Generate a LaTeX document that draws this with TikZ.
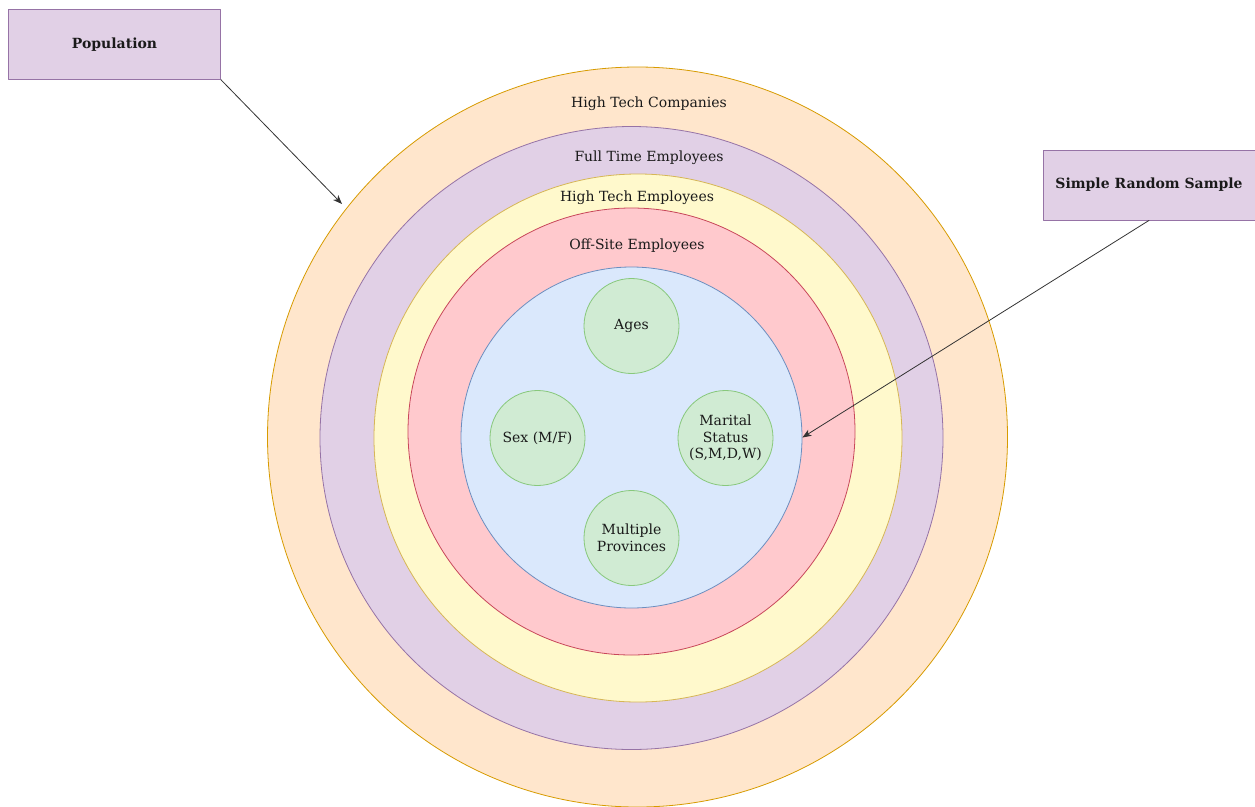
\documentclass[tikz,border=0pt]{standalone}
\usepackage{fontspec}
\setmainfont{DejaVu Serif}
\usetikzlibrary{arrows.meta}
\definecolor{orangefill}{HTML}{FFE6CC}
\definecolor{orangeline}{HTML}{D79B00}
\definecolor{purplefill}{HTML}{E1D0E6}
\definecolor{purpleline}{HTML}{9673A6}
\definecolor{yellowfill}{HTML}{FFF9CC}
\definecolor{yellowline}{HTML}{D6B656}
\definecolor{redfill}{HTML}{FFC9CD}
\definecolor{redline}{HTML}{C8475A}
\definecolor{bluefill}{HTML}{DAE8FC}
\definecolor{blueline}{HTML}{6C8EBF}
\definecolor{greenfill}{HTML}{D0EBD3}
\definecolor{greenline}{HTML}{88C87C}
\definecolor{arrowgray}{HTML}{333333}
\definecolor{textgray}{HTML}{1A1A1A}
\newcommand{\diagfont}{\fontsize{14}{16.5}\selectfont}

\begin{document}
\begin{tikzpicture}[line cap=round,line join=round,x=1pt,y=-1pt,
        ring/.style={circle,draw,line width=0.8pt,inner sep=0pt},
        attr/.style={ring,draw=greenline,fill=greenfill,minimum size=95pt,align=center,
            font=\diagfont,text=textgray},
        group/.style={rectangle,draw=purpleline,fill=purplefill,line width=0.8pt,
            minimum width=212pt,minimum height=70pt,font=\diagfont\bfseries,text=textgray},
        caption/.style={font=\diagfont,text=textgray},
        link/.style={draw=arrowgray,line width=0.8pt,-{Stealth[length=9pt,width=7pt,inset=2.5pt]}}]
    \useasboundingbox (0,0) rectangle (1255,806);

    % nested groups
    \node[ring,draw=orangeline,fill=orangefill,minimum size=740pt] (comp) at (637.5,437) {};
    \node[ring,draw=purpleline,fill=purplefill,minimum size=623pt] (fulltime) at (631.5,438) {};
    \node[ring,draw=yellowline,fill=yellowfill,minimum size=528pt] (hitech) at (638,438) {};
    \node[ring,draw=redline,fill=redfill,minimum size=447pt] (offsite) at (631.5,431.5) {};
    \node[ring,draw=blueline,fill=bluefill,minimum size=341pt] (sample) at (631.5,437.5) {};

    \node[caption] (compname) at (649,104) {High Tech Companies};
    \node[caption] (fulltimename) at (649,157.5) {Full Time Employees};
    \node[caption] (hitechname) at (637,198) {High Tech Employees};
    \node[caption] (offsitename) at (637,245.5) {Off-Site Employees};

    % sample attributes
    \node[attr] (ages) at (631.5,326) {\raisebox{-1.5pt}{Ages}};
    \node[attr] (sex) at (537.5,438) {\raisebox{-1.5pt}{Sex (M/F)}};
    \node[attr] (marital) at (725.5,438) {Marital\\Status\\(S,M,D,W)};
    \node[attr] (prov) at (631.5,538) {Multiple\\Provinces};

    \node[group] (pop) at (114.5,44.3) {Population};
    \node[group] (srs) at (1149,185) {Simple Random Sample};

    \coordinate (popend) at (342,204);
    \draw[link] (pop.south east) -- (popend);
    \draw[link] (srs.south) -- (sample.east);
\end{tikzpicture}
\end{document}
